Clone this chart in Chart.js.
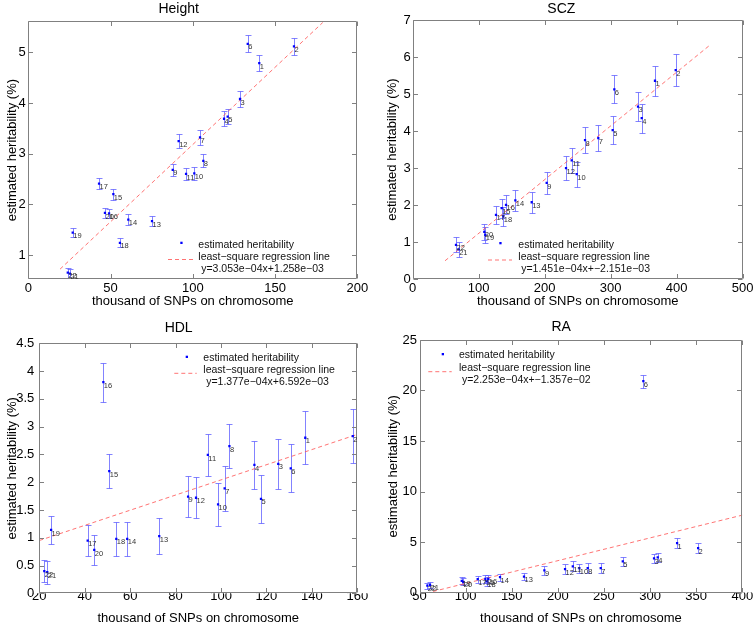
<!DOCTYPE html>
<html>
<head>
<meta charset="utf-8">
<script src="https://cdn.jsdelivr.net/npm/chart.js@4.4.1/dist/chart.umd.min.js"></script>
<style>
  html, body { margin: 0; padding: 0; background: #fff; overflow: hidden; }
  body { width: 754px; height: 625px; position: relative; }
  canvas { position: absolute; }
</style>
</head>
<body>
<canvas id="cHeight"></canvas>
<canvas id="cScz"></canvas>
<canvas id="cHdl"></canvas>
<canvas id="cRa"></canvas>
<script>
// chromosome number of each point (same order in every array below)
const chromosomes = [1, 2, 3, 4, 5, 6, 7, 8, 9, 10, 11, 12, 13, 14, 15, 16, 17, 18, 19, 20, 21, 22];

// Height
const heightX   = [140.4, 161.5, 128.7, 119.0, 121.2, 133.4, 104.4, 106.4, 87.8, 100.9, 95.9, 91.4, 75.2, 60.8, 51.7, 49.1, 43.0, 55.7, 27.0, 46.6, 25.3, 24.0];
const heightY   = [4.79, 5.12, 4.08, 3.69, 3.73, 5.17, 3.32, 2.86, 2.68, 2.61, 2.60, 3.25, 1.67, 1.70, 2.20, 1.82, 2.41, 1.24, 1.44, 1.83, 0.63, 0.65];
const heightErr = [0.165, 0.165, 0.155, 0.145, 0.145, 0.165, 0.14, 0.125, 0.12, 0.13, 0.12, 0.13, 0.105, 0.10, 0.105, 0.09, 0.105, 0.09, 0.09, 0.09, 0.09, 0.10];
const heightFitX = [19.3, 179];
const heightFitY = [0.72, 5.59];
const heightXTicks = [0, 50, 100, 150, 200];
const heightYTicks = [1, 2, 3, 4, 5];

// SCZ
const sczX   = [367.1, 398.5, 341.4, 347.0, 303.0, 305.5, 281.2, 261.1, 203.0, 248.5, 240.9, 232.3, 180.3, 155.5, 134.8, 141.4, 126.2, 137.3, 110.0, 108.5, 69.7, 65.6];
const sczY   = [5.36, 5.65, 4.66, 4.35, 4.03, 5.13, 3.81, 3.76, 2.60, 2.84, 3.21, 3.00, 2.08, 2.13, 1.92, 2.01, 1.74, 1.70, 1.20, 1.28, 0.81, 0.93];
const sczErr = [0.41, 0.43, 0.39, 0.39, 0.37, 0.38, 0.35, 0.35, 0.29, 0.34, 0.34, 0.32, 0.28, 0.28, 0.26, 0.26, 0.25, 0.25, 0.22, 0.22, 0.20, 0.20];
const sczFitX = [49, 449.5];
const sczFitY = [0.50, 6.31];
const sczXTicks = [0, 100, 200, 300, 400, 500];
const sczYTicks = [0, 1, 2, 3, 4, 5, 6, 7];

// HDL
const hdlX   = [137.1, 158.0, 125.2, 114.7, 117.6, 130.7, 101.6, 103.7, 85.5, 98.7, 94.2, 89.0, 72.8, 58.7, 50.8, 48.2, 41.3, 53.9, 25.2, 44.2, 23.5, 22.2];
const hdlY   = [2.80, 2.83, 2.33, 2.31, 1.70, 2.25, 1.89, 2.65, 1.74, 1.60, 2.49, 1.72, 1.03, 0.98, 2.20, 3.80, 0.95, 0.98, 1.14, 0.78, 0.38, 0.40];
const hdlErr = [0.48, 0.49, 0.45, 0.44, 0.43, 0.43, 0.40, 0.40, 0.37, 0.38, 0.38, 0.37, 0.33, 0.31, 0.31, 0.35, 0.28, 0.30, 0.26, 0.27, 0.21, 0.20];
const hdlFitX = [20, 160];
const hdlFitY = [0.95, 2.86];
const hdlXTicks = [20, 40, 60, 80, 100, 120, 140, 160];
const hdlYTicks = [0, 0.5, 1, 1.5, 2, 2.5, 3, 3.5, 4, 4.5];

// RA
const raX   = [329.3, 352.1, 304.3, 308.3, 270.4, 292.7, 246.5, 232.4, 185.4, 223.3, 216.2, 207.8, 163.3, 137.3, 121.4, 124.6, 113.1, 122.9, 95.8, 97.5, 61.4, 58.5];
const raY   = [4.89, 4.40, 3.37, 3.47, 3.07, 20.93, 2.42, 2.42, 2.18, 2.42, 2.58, 2.32, 1.58, 1.52, 1.33, 1.36, 1.33, 1.09, 1.16, 1.06, 0.76, 0.69];
const raErr = [0.51, 0.51, 0.45, 0.45, 0.48, 0.64, 0.48, 0.48, 0.41, 0.45, 0.50, 0.48, 0.33, 0.36, 0.40, 0.40, 0.35, 0.40, 0.35, 0.35, 0.30, 0.30];
const raFitX = [50, 400];
const raFitY = [-0.23, 7.66];
const raXTicks = [50, 100, 150, 200, 250, 300, 350, 400];
const raYTicks = [0, 5, 10, 15, 20, 25];

Chart.defaults.font.family = '"Liberation Sans", Arial, sans-serif';
Chart.defaults.color = '#000';

// matlab style box with inward ticks on all four sides
const framePlugin = {
    id: 'matlabFrame',
    afterDatasetsDraw(chart) {
        const { ctx, chartArea: a, scales } = chart;
        const L = Math.round(a.left) + 0.5, R = Math.round(a.right) - 0.5;
        const T = Math.round(a.top) + 0.5, B = Math.round(a.bottom) - 0.5;
        const len = 4.5;
        ctx.save();
        ctx.strokeStyle = '#808080';
        ctx.lineWidth = 1;
        ctx.beginPath();
        ctx.rect(L, T, R - L, B - T);
        scales.x.ticks.forEach(t => {
            const px = Math.round(scales.x.getPixelForValue(t.value)) + 0.5;
            ctx.moveTo(px, B); ctx.lineTo(px, B - len);
            ctx.moveTo(px, T); ctx.lineTo(px, T + len);
        });
        scales.y.ticks.forEach(t => {
            const py = Math.round(scales.y.getPixelForValue(t.value)) + 0.5;
            ctx.moveTo(L, py); ctx.lineTo(L + len, py);
            ctx.moveTo(R, py); ctx.lineTo(R - len, py);
        });
        ctx.stroke();
        ctx.restore();
    }
};

const errorBarPlugin = {
    id: 'errorBars',
    beforeDatasetsDraw(chart) {
        const ds = chart.data.datasets[0];
        const xs = chart.scales.x, ys = chart.scales.y;
        const ctx = chart.ctx;
        ctx.save();
        ctx.strokeStyle = 'rgba(90, 90, 255, 0.75)';
        ctx.lineWidth = 1;
        ds.data.forEach((pt, i) => {
            const px = Math.round(xs.getPixelForValue(pt.x)) + 0.5;
            const yTop = Math.round(ys.getPixelForValue(pt.y + ds.errors[i])) + 0.5;
            const yBot = Math.round(ys.getPixelForValue(pt.y - ds.errors[i])) + 0.5;
            ctx.beginPath();
            ctx.moveTo(px, yTop); ctx.lineTo(px, yBot);
            ctx.moveTo(px - 3, yTop); ctx.lineTo(px + 3, yTop);
            ctx.moveTo(px - 3, yBot); ctx.lineTo(px + 3, yBot);
            ctx.stroke();
        });
        ctx.restore();
    }
};

// chromosome number next to each point
const labelPlugin = {
    id: 'chromLabels',
    afterDatasetsDraw(chart) {
        const meta = chart.getDatasetMeta(0);
        const ctx = chart.ctx;
        ctx.save();
        ctx.font = '7.5px "Liberation Sans", Arial, sans-serif';
        ctx.fillStyle = '#333';
        ctx.textAlign = 'left';
        ctx.textBaseline = 'middle';
        meta.data.forEach((el, i) => {
            ctx.fillText(String(chromosomes[i]), el.x + 0.5, el.y + 3.5);
        });
        ctx.restore();
    }
};

// legend without box, inside the axes
const legendPlugin = {
    id: 'inlineLegend',
    afterDraw(chart, args, o) {
        const ctx = chart.ctx;
        const ds = chart.data.datasets;
        ctx.save();
        ctx.fillStyle = '#0000ff';
        ctx.fillRect(o.mx - 1, o.my - 1, 2.3, 2.3);
        ctx.strokeStyle = 'rgba(255, 80, 80, 0.8)';
        ctx.lineWidth = 1;
        ctx.setLineDash([4, 3]);
        ctx.beginPath();
        ctx.moveTo(o.lx1, o.ly); ctx.lineTo(o.lx2, o.ly);
        ctx.stroke();
        ctx.setLineDash([]);
        ctx.font = '10.5px "Liberation Sans", Arial, sans-serif';
        ctx.fillStyle = '#111';
        ctx.textAlign = 'left';
        ctx.textBaseline = 'middle';
        ctx.fillText(ds[0].label, o.tx, o.ty);
        ctx.fillText(ds[1].label, o.tx, o.ty + o.dy);
        ctx.fillText(' ' + o.formula, o.tx, o.ty + 2 * o.dy);
        ctx.restore();
    }
};

const panels = [
    { id: 'cHeight', title: 'Height', xs: heightX, ys: heightY, errs: heightErr, fitX: heightFitX, fitY: heightFitY,
      formula: 'y=3.053e\u221204x+1.258e\u221203', xTicks: heightXTicks, yTicks: heightYTicks,
      xMin: 0, xMax: 200, yMin: 0.52, yMax: 5.62,
      canvas: { left: 0, top: 0, width: 386, height: 312 }, area: { l: 28.3, r: 357.3, t: 21, b: 279.3 },
      titlePad: 0.6, xTickPad: 1.2, xTitlePad: 3.8, yTickPad: 2.5, yTitlePad: 5.5,
      legend: { mx: 181.3, my: 242.7, tx: 198.3, ty: 245, dy: 12, lx1: 168, lx2: 195, ly: 259.5 } },
    { id: 'cScz', title: 'SCZ', xs: sczX, ys: sczY, errs: sczErr, fitX: sczFitX, fitY: sczFitY,
      formula: 'y=1.451e\u221204x+\u22122.151e\u221203', xTicks: sczXTicks, yTicks: sczYTicks,
      xMin: 0, xMax: 500, yMin: 0, yMax: 7,
      canvas: { left: 380, top: 0, width: 395, height: 312 }, area: { l: 412.7, r: 742.7, t: 20, b: 279.3 },
      titlePad: 0.6, xTickPad: 1.2, xTitlePad: 3.8, yTickPad: 2, yTitlePad: 5.5,
      legend: { mx: 500.3, my: 243, tx: 518.3, ty: 245, dy: 12, lx1: 488, lx2: 512, ly: 260 } },
    { id: 'cHdl', title: 'HDL', xs: hdlX, ys: hdlY, errs: hdlErr, fitX: hdlFitX, fitY: hdlFitY,
      formula: 'y=1.377e\u221204x+6.592e\u221203', xTicks: hdlXTicks, yTicks: hdlYTicks,
      xMin: 20, xMax: 160, yMin: 0, yMax: 4.5,
      canvas: { left: 0, top: 312, width: 397, height: 313 }, area: { l: 39.3, r: 357.3, t: 343.3, b: 593.3 },
      titlePad: 8.1, xTickPad: -4.4, xTitlePad: 0.2, yTickPad: 5, yTitlePad: 5.5,
      legend: { mx: 186.7, my: 356.7, tx: 203.3, ty: 358.3, dy: 11.8, lx1: 174.3, lx2: 196.7, ly: 373.3 } },
    { id: 'cRa', title: 'RA', xs: raX, ys: raY, errs: raErr, fitX: raFitX, fitY: raFitY,
      formula: 'y=2.253e\u221204x+\u22121.357e\u221202', xTicks: raXTicks, yTicks: raYTicks,
      xMin: 50, xMax: 400, yMin: 0, yMax: 25,
      canvas: { left: 380, top: 312, width: 402, height: 313 }, area: { l: 419.5, r: 742.3, t: 340, b: 592.5 },
      titlePad: 7, xTickPad: -3.6, xTitlePad: 0.2, yTickPad: 2.5, yTitlePad: 6.5,
      legend: { mx: 442.7, my: 354, tx: 459, ty: 355.3, dy: 12.6, lx1: 428.3, lx2: 451.7, ly: 371.7 } }
];

function makeChart(p) {
    const cv = document.getElementById(p.id);
    const c = p.canvas, a = p.area;
    cv.width = c.width;
    cv.height = c.height;
    cv.style.left = c.left + 'px';
    cv.style.top = c.top + 'px';

    const yW = a.l - c.left;
    const xH = c.top + c.height - a.b;
    const padRight = c.left + c.width - a.r;
    const titleBottom = a.t - c.top - p.titlePad - 14 * 1.2;
    const lg = p.legend;

    return new Chart(cv, {
        type: 'scatter',
        data: {
            datasets: [{
                label: 'estimated heritability',
                data: p.xs.map((x, i) => ({ x: x, y: p.ys[i] })),
                errors: p.errs,
                backgroundColor: '#0000ff',
                borderColor: '#0000ff',
                borderWidth: 0,
                pointStyle: 'rect',
                pointRadius: 1.6,
                pointHoverRadius: 1.6,
                order: 1
            }, {
                label: 'least\u2212square regression line',
                data: p.fitX.map((x, i) => ({ x: x, y: p.fitY[i] })),
                showLine: true,
                borderColor: 'rgba(255, 80, 80, 0.8)',
                borderWidth: 1,
                borderDash: [4, 3],
                pointRadius: 0,
                pointHoverRadius: 0,
                order: 2
            }]
        },
        options: {
            responsive: false,
            animation: false,
            devicePixelRatio: 1,
            events: [],
            layout: { autoPadding: false, padding: { left: 0, right: padRight, top: 0, bottom: 0 } },
            plugins: {
                legend: { display: false },
                tooltip: { enabled: false },
                title: {
                    display: true,
                    text: p.title,
                    color: '#000',
                    font: { size: 14, weight: 'normal' },
                    padding: { top: p.titlePad, bottom: titleBottom }
                },
                inlineLegend: {
                    formula: p.formula,
                    mx: lg.mx - c.left, my: lg.my - c.top,
                    tx: lg.tx - c.left, ty: lg.ty - c.top, dy: lg.dy,
                    lx1: lg.lx1 - c.left, lx2: lg.lx2 - c.left, ly: lg.ly - c.top
                }
            },
            scales: {
                x: {
                    type: 'linear',
                    min: p.xMin,
                    max: p.xMax,
                    grid: { display: false, drawTicks: false },
                    border: { display: false },
                    ticks: {
                        color: '#000', font: { size: 13 }, padding: p.xTickPad,
                        maxRotation: 0, autoSkip: false,
                        callback: v => String(v)
                    },
                    afterBuildTicks: s => { s.ticks = p.xTicks.map(v => ({ value: v })); },
                    afterFit: s => { s.height = xH; },
                    title: {
                        display: true, text: 'thousand of SNPs on chromosome', color: '#000',
                        font: { size: 13, lineHeight: 1 }, padding: { top: 0, bottom: p.xTitlePad }
                    }
                },
                y: {
                    type: 'linear',
                    min: p.yMin,
                    max: p.yMax,
                    grid: { display: false, drawTicks: false },
                    border: { display: false },
                    ticks: {
                        color: '#000', font: { size: 13 }, padding: p.yTickPad,
                        autoSkip: false,
                        callback: v => String(v)
                    },
                    afterBuildTicks: s => { s.ticks = p.yTicks.map(v => ({ value: v })); },
                    afterFit: s => { s.width = yW; },
                    title: {
                        display: true, text: 'estimated heritability (%)', color: '#000',
                        font: { size: 13, lineHeight: 1 }, padding: { top: p.yTitlePad, bottom: 0 }
                    }
                }
            }
        },
        plugins: [errorBarPlugin, framePlugin, labelPlugin, legendPlugin]
    });
}

panels.forEach(makeChart);
</script>
</body>
</html>
